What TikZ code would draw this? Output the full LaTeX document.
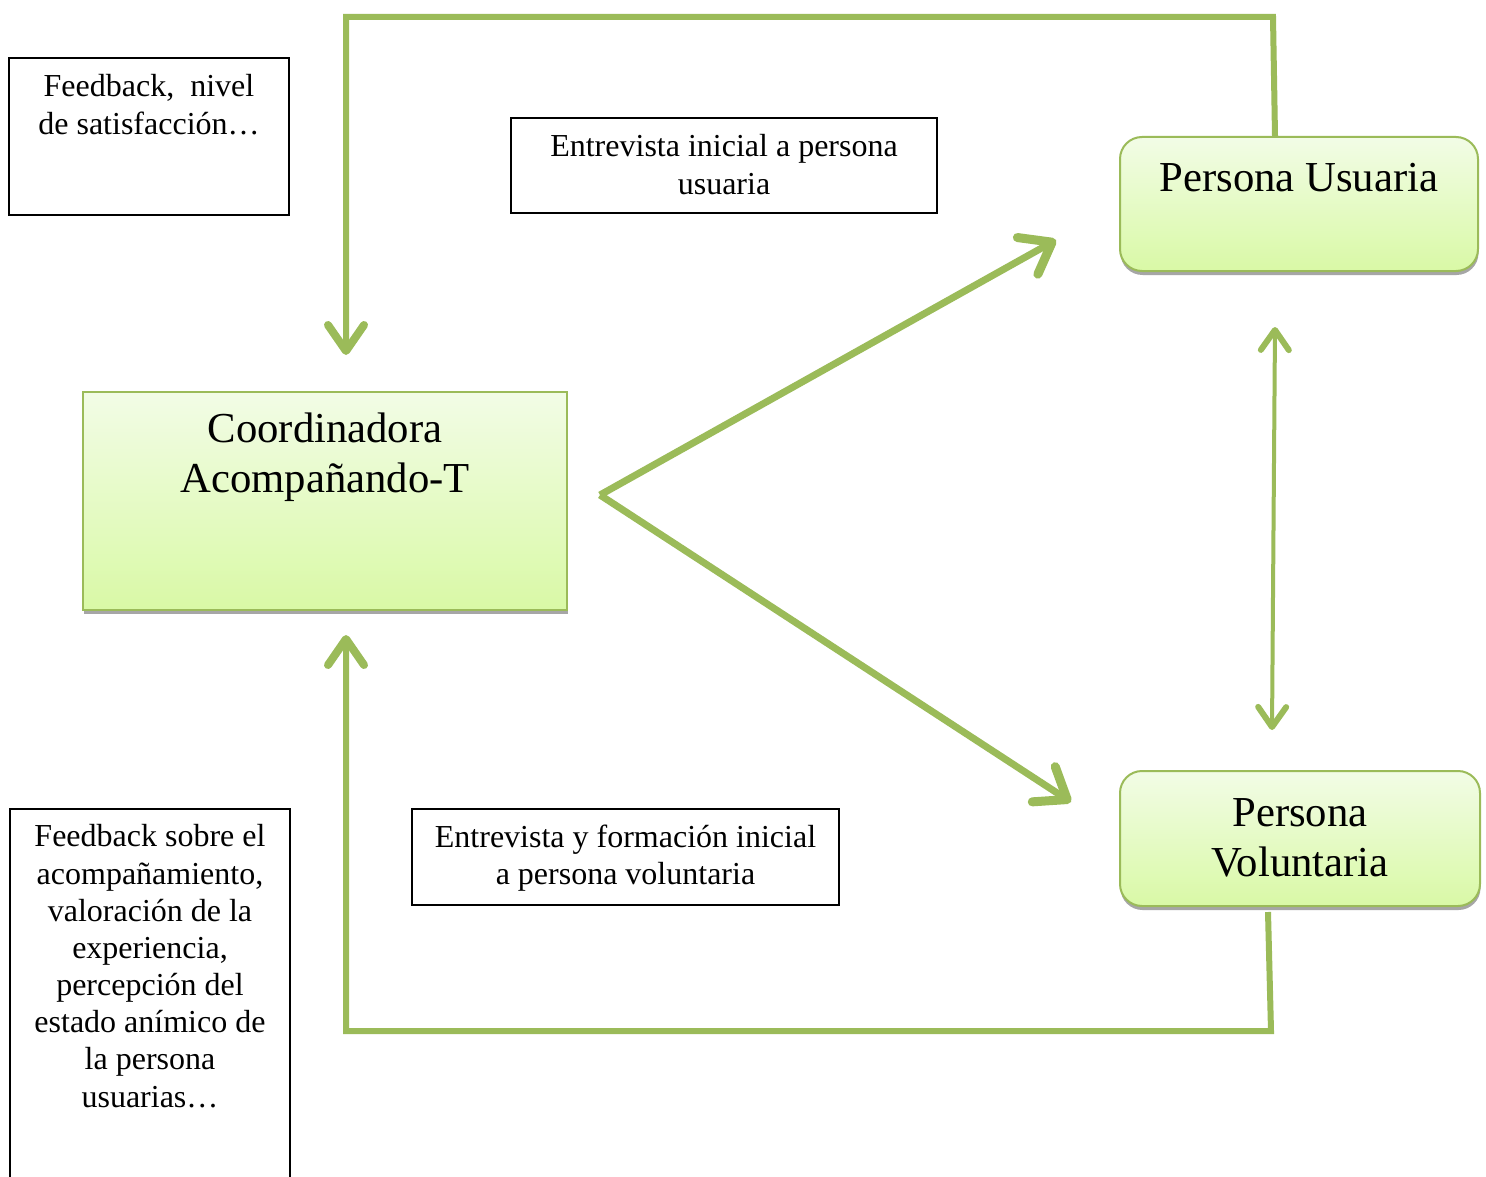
\documentclass[tikz,border=0pt]{standalone}
\usepackage{fontspec}
\setmainfont{Liberation Serif}
\usetikzlibrary{arrows.meta,shadows}
\definecolor{ogreen}{HTML}{9BBB59}
\definecolor{gtop}{HTML}{F2FCE6}
\definecolor{gbot}{HTML}{D9F9A6}
\begin{document}
\begin{tikzpicture}[x=1pt,y=-1pt,
  textbox/.style={draw=black, line width=1.6pt, fill=white, inner sep=0pt},
  greenbox/.style={draw=ogreen, line width=2pt, top color=gtop, bottom color=gbot, inner sep=0pt,
    drop shadow={shadow xshift=0.5pt, shadow yshift=-4pt, fill=black!35, opacity=1}},
  smalltext/.style={font=\fontsize{32}{37.5}\selectfont, align=center, anchor=base, inner sep=0pt},
  bigtext/.style={font=\fontsize{42.7}{50}\selectfont, align=center, anchor=base, inner sep=0pt},
  conn/.style={draw=ogreen, line width=6pt},
  tipA/.style={-{Straight Barb[length=26pt,width=36pt,round,line width=8pt]}},
  tipV/.style={-{Straight Barb[length=28pt,width=42pt,round,line width=9pt]}},
  tipD/.style={{Straight Barb[length=20pt,width=28pt,round,line width=6pt]}-{Straight Barb[length=20pt,width=28pt,round,line width=6pt]}}
]
\path[use as bounding box] (0,0) rectangle (1486,1177);
\clip (0,0) rectangle (1486,1177);
\fill[white] (0,0) rectangle (1486,1177);

% boxes
\node[textbox, minimum width=280pt, minimum height=157pt] (fb1) at (149,136.5) {};
\node[textbox, minimum width=426pt, minimum height=95pt] (ent1) at (724,165.5) {};
\node[greenbox, rounded corners=22pt, minimum width=358pt, minimum height=134pt] (pu) at (1299,204) {};
\node[greenbox, minimum width=484pt, minimum height=218pt] (coord) at (325,501) {};
\node[greenbox, rounded corners=22pt, minimum width=360pt, minimum height=135pt] (pv) at (1300,838.5) {};
\node[textbox, minimum width=427pt, minimum height=96pt] (ent2) at (625.5,857) {};
\node[textbox, minimum width=280pt, minimum height=400pt] (fb2) at (150,1009) {};

% texts (anchor = baseline of the last line)
\node[smalltext] (fb1t) at (149,134.5) {Feedback,~ nivel\\de satisfacción…};
\node[smalltext] (ent1t) at (724,194.5) {Entrevista inicial a persona\\usuaria};
\node[bigtext] (put) at (1299,192) {Persona Usuaria};
\node[bigtext] (coordt) at (325,492) {Coordinadora\\Acompañando-T};
\node[bigtext] (pvt) at (1300,876) {Persona\\Voluntaria};
\node[smalltext] (ent2t) at (625.5,884.5) {Entrevista y formación inicial\\a persona voluntaria};
\node[smalltext, font=\fontsize{32}{37.15}\selectfont] (fb2t) at (150,1107) {Feedback sobre el\\acompañamiento,\\valoración de la\\experiencia,\\percepción del\\estado anímico de\\la persona\\usuarias…};

% connector points
\coordinate (a1) at (1275,136);
\coordinate (a2) at (1273,17);
\coordinate (a3) at (346,17);
\coordinate (a4) at (346,355);
\coordinate (b1) at (1268,912);
\coordinate (b2) at (1271,1031);
\coordinate (b3) at (346,1031);
\coordinate (b4) at (346,635);
\coordinate (v0) at (600,495);
\coordinate (v1) at (1056,240);
\coordinate (v2) at (1071,802);
\coordinate (d1) at (1275,327);
\coordinate (d2) at (1272,730);

% connectors
\draw[conn, tipA] (a1) -- (a2) -- (a3) -- (a4);
\draw[conn, tipA] (b1) -- (b2) -- (b3) -- (b4);
\draw[conn, line width=7pt, tipV] (v0) -- (v1);
\draw[conn, line width=7pt, tipV] (v0) -- (v2);
\draw[conn, line width=4pt, tipD] (d1) -- (d2);
\end{tikzpicture}
\end{document}
